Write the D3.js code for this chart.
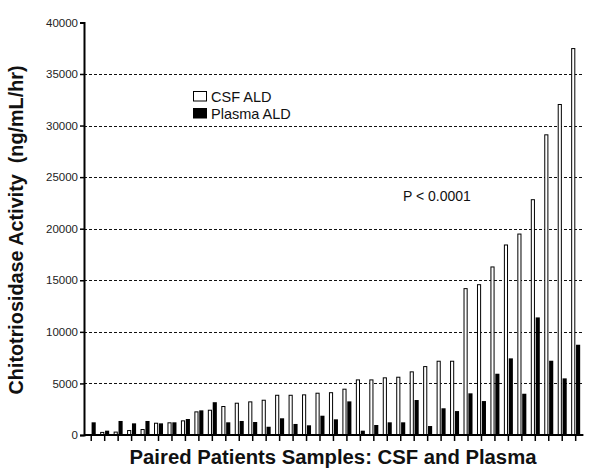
<!DOCTYPE html>
<html>
<head>
<meta charset="utf-8">
<script src="https://cdn.jsdelivr.net/npm/d3@7"></script>
<style>
  body { margin: 0; background: #fff; }
  svg text { font-family: Arial, "Liberation Sans", sans-serif; }
</style>
</head>
<body>
<div id="chart"></div>
<script>
// values, one pair per patient
var csf = [0, 300, 330, 480, 580, 1190, 1230, 1420, 2290, 2450,
           2810, 3130, 3260, 3420, 3900, 3900, 3940, 4100, 4150, 4490,
           5390, 5390, 5590, 5650, 6170, 6680, 7200, 7200, 14240, 14620,
           16340, 18470, 19530, 22860, 29150, 32090, 37510];
var plasma = [1230, 420, 1360, 1130, 1360, 1130, 1230, 1550, 2390, 3180,
              1230, 1360, 1260, 800, 1620, 1070, 940, 1870, 1520, 3260,
              420, 970, 1230, 1230, 3390, 870, 2590, 2320, 4040, 3290,
              5940, 7430, 4000, 11400, 7200, 5490, 8750];
var series = ["CSF ALD", "Plasma ALD"];
var yTicks = [0, 5000, 10000, 15000, 20000, 25000, 30000, 35000, 40000];

var W = 600, H = 476;
var plot = {left: 84, right: 582.4, top: 22.4, bot: 435};

var svg = d3.select("#chart").append("svg")
    .attr("width", W)
    .attr("height", H);

var x = d3.scaleBand()
    .domain(d3.range(csf.length))
    .range([plot.left + 0.5, plot.right])
    .padding(0);

var inner = d3.scaleBand()
    .domain(series)
    .range([-4.5, 4.5])
    .paddingInner(0.15);

var y = d3.scaleLinear()
    .domain([0, 40000])
    .range([plot.bot, plot.top]);

// dashed grid
svg.append("g")
    .selectAll("line")
    .data(yTicks.filter(function(d) { return d > 0 && d < 40000; }))
    .enter().append("line")
    .attr("x1", plot.left)
    .attr("x2", plot.right + 1)
    .attr("y1", function(d) { return Math.round(y(d)) + 0.5; })
    .attr("y2", function(d) { return Math.round(y(d)) + 0.5; })
    .attr("stroke", "#111")
    .attr("stroke-width", 1)
    .attr("stroke-dasharray", "3,2");

// bars
var groups = svg.append("g")
    .selectAll("g")
    .data(csf.map(function(c, i) { return {i: i, csf: c, plasma: plasma[i]}; }))
    .enter().append("g")
    .attr("transform", function(d) {
        return "translate(" + (x(d.i) + x.bandwidth() / 2) + ",0)";
    });

groups.filter(function(d) { return d.csf > 0; })
    .append("rect")
    .attr("x", inner("CSF ALD") + 0.5)
    .attr("width", inner.bandwidth() - 1)
    .attr("y", function(d) { return y(d.csf) + 0.5; })
    .attr("height", function(d) { return Math.max(0, plot.bot - y(d.csf) - 0.5); })
    .attr("fill", "#fff")
    .attr("stroke", "#000")
    .attr("stroke-width", 1);

groups.append("rect")
    .attr("x", inner("Plasma ALD"))
    .attr("width", inner.bandwidth())
    .attr("y", function(d) { return y(d.plasma); })
    .attr("height", function(d) { return plot.bot - y(d.plasma); })
    .attr("fill", "#000");

// axes
var yAxis = d3.axisLeft(y)
    .tickValues(yTicks)
    .tickSize(4)
    .tickPadding(2)
    .tickFormat(d3.format("d"));

var gy = svg.append("g")
    .attr("transform", "translate(" + plot.left + ",0)")
    .call(yAxis);
gy.select(".domain").attr("stroke-width", 2);
gy.selectAll(".tick line").attr("stroke-width", 1.5);
gy.selectAll("text")
    .attr("font-size", 11.5)
    .attr("fill", "#222")
    .style("font-family", "Arial, 'Liberation Sans', sans-serif");

var xAxis = d3.axisBottom(x)
    .tickSize(6)
    .tickSizeOuter(0)
    .tickFormat("");

var gx = svg.append("g")
    .attr("transform", "translate(0," + plot.bot + ")")
    .call(xAxis);
gx.select(".domain")
    .attr("d", "M" + plot.left + ",0H" + (plot.right + 1))
    .attr("stroke-width", 2);
gx.selectAll(".tick line").attr("stroke-width", 1.5);

// titles
svg.append("text")
    .attr("transform", "translate(23," + 230 + ") rotate(-90)")
    .attr("text-anchor", "middle")
    .attr("font-size", 19.8)
    .attr("font-weight", "bold")
    .attr("fill", "#111")
    .style("white-space", "pre")
    .text("Chitotriosidase Activity  (ng/mL/hr)");

svg.append("text")
    .attr("x", 333)
    .attr("y", 464)
    .attr("text-anchor", "middle")
    .attr("font-size", 20.3)
    .attr("font-weight", "bold")
    .attr("fill", "#111")
    .text("Paired Patients Samples: CSF and Plasma");

// legend
var legend = svg.append("g")
    .attr("transform", "translate(193,91)");
var li = legend.selectAll("g")
    .data(series)
    .enter().append("g")
    .attr("transform", function(d, i) { return "translate(0," + (i * 17) + ")"; });
li.append("rect")
    .attr("x", 0.5)
    .attr("y", 0.5)
    .attr("width", 13)
    .attr("height", 9.5)
    .attr("fill", function(d, i) { return i == 0 ? "#fff" : "#000"; })
    .attr("stroke", "#000")
    .attr("stroke-width", 1);
li.append("text")
    .attr("x", 18)
    .attr("y", 11)
    .attr("font-size", 14.5)
    .attr("fill", "#111")
    .text(function(d) { return d; });

svg.append("text")
    .attr("x", 403)
    .attr("y", 201)
    .attr("font-size", 14)
    .attr("fill", "#111")
    .text("P < 0.0001");
</script>
</body>
</html>
